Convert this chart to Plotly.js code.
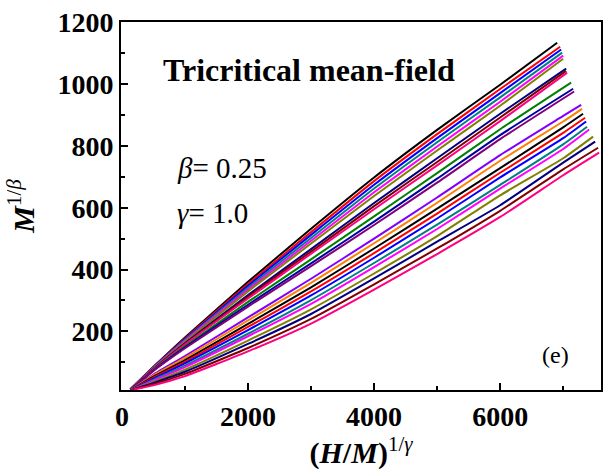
<!DOCTYPE html>
<html><head><meta charset="utf-8">
<script src="https://cdn.plot.ly/plotly-3.0.1.min.js"></script>
<style>html,body{margin:0;padding:0;background:#fff}#chart{width:605px;height:471px}</style>
</head><body><div id="chart"></div>
<script>
// x grids (H/M)^(1/gamma) and y values M^(1/beta) for each isotherm
const c01x=[130,500,1000,2000,3000,4000,5000,6000,6905], c01y=[12,85,180,360,532,698,852,998,1134];
const c02x=[132,500,1000,2000,3000,4000,5000,6000,6952], c02y=[12,84,177,353,521,686,838,984,1121];
const c03x=[134,500,1000,2000,3000,4000,5000,6000,6968], c03y=[12,83,174,347,512,674,825,971,1112];
const c04x=[136,500,1000,2000,3000,4000,5000,6000,6984], c04y=[12,82,172,341,502,662,812,957,1102];
const c05x=[138,500,1000,2000,3000,4000,5000,6000,7000], c05y=[12,81,169,335,493,650,798,943,1092];
const c06x=[140,500,1000,2000,3000,4000,5000,6000,7000], c06y=[12,80,166,329,484,638,785,930,1082];
const c07x=[142,500,1000,2000,3000,4000,5000,6000,7047], c07y=[12,78,161,317,466,615,760,904,1050];
const c08x=[144,500,1000,2000,3000,4000,5000,6000,7047], c08y=[12,77,159,312,458,605,748,892,1043];
const c09x=[146,500,1000,2000,3000,4000,5000,6000,7063], c09y=[12,76,157,306,451,595,737,880,1037];
const c10x=[148,500,1000,2000,3000,4000,5000,6000,7126], c10y=[12,74,151,295,433,572,712,854,1005];
const c11x=[150,500,1000,2000,3000,4000,5000,6000,7158], c11y=[12,73,148,286,420,555,694,835,985];
const c12x=[152,500,1000,2000,3000,4000,5000,6000,7174], c12y=[12,72,145,280,411,544,681,822,976];
const c13x=[155,500,1000,2000,3000,4000,5000,6000,7000,7285], c13y=[12,60,120,245,370,500,633,770,897,933];
const c14x=[158,500,1000,2000,3000,4000,5000,6000,7000,7300], c14y=[12,57,114,235,357,485,616,752,879,920];
const c15x=[161,500,1000,2000,3000,4000,5000,6000,7000,7316], c15y=[12,53,107,224,342,468,597,728,860,904];
const c16x=[164,500,1000,2000,3000,4000,5000,6000,7000,7348], c16y=[12,50,101,214,329,453,581,713,842,891];
const c17x=[167,500,1000,2000,3000,4000,5000,6000,7000,7364], c17y=[12,47,96,204,316,438,565,698,825,879];
const c18x=[170,500,1000,2000,3000,4000,5000,6000,7000,7380], c18y=[12,43,89,192,301,421,545,674,805,862];
const c19x=[173,500,1000,2000,3000,4000,5000,6000,7000,7412], c19y=[12,40,84,184,289,408,531,662,790,853];
const c20x=[176,500,1000,2000,3000,4000,5000,6000,7000,7475], c20y=[12,36,76,170,271,387,508,640,760,830];
const c21x=[179,500,1000,2000,3000,4000,5000,6000,7000,7507], c21y=[12,33,69,159,256,371,490,608,746,814];
const c22x=[182,500,1000,2000,3000,4000,5000,6000,7000,7554], c22y=[12,29,62,146,240,352,468,590,724,794];
const c23x=[185,500,1000,2000,3000,4000,5000,6000,7000,7570], c23y=[12,25,55,135,225,335,450,570,705,778];

const curveX=[c01x,c02x,c03x,c04x,c05x,c06x,c07x,c08x,c09x,c10x,c11x,c12x,c13x,c14x,c15x,c16x,c17x,c18x,c19x,c20x,c21x,c22x,c23x];
const curveY=[c01y,c02y,c03y,c04y,c05y,c06y,c07y,c08y,c09y,c10y,c11y,c12y,c13y,c14y,c15y,c16y,c17y,c18y,c19y,c20y,c21y,c22y,c23y];
const curveColors=['#000000','#FF0000','#0000FF','#008080','#FF00FF','#808000','#000080','#800000','#FF0080','#008000','#0000A0','#800080',
  '#8000FF','#FF8000','#000000','#FF0000','#0000FF','#008080','#FF00FF','#808000','#000080','#800000','#FF0080'];

const xTickVals=[0,2000,4000,6000];
const yTickVals=[200,400,600,800,1000,1200];

const FONT='"Times New Roman", "Liberation Serif", serif';
const traces=curveX.map((xs,i)=>({x:xs,y:curveY[i],type:'scatter',mode:'lines',
  line:{color:curveColors[i],width:2,shape:'spline',smoothing:0.5},hoverinfo:'skip'}));

const layout={
  width:605,height:471,showlegend:false,
  margin:{l:121,r:4,t:22,b:81,pad:0},
  paper_bgcolor:'#fff',plot_bgcolor:'#fff',
  font:{family:FONT,color:'#000'},
  xaxis:{range:[-15,7600],tickmode:'array',tickvals:xTickVals,ticktext:xTickVals.map(String),
    ticks:'inside',ticklen:7,tickwidth:2,tickcolor:'#000',
    minor:{dtick:1000,tick0:0,ticks:'inside',ticklen:4,tickwidth:2,tickcolor:'#000'},
    showline:true,linewidth:2,linecolor:'#000',mirror:true,showgrid:false,zeroline:false,
    tickfont:{family:FONT,size:28,weight:'bold'},
    title:{text:'<b>(<i>H</i>/<i>M</i>)</b><sup>1/<i>γ</i></sup>',font:{family:FONT,size:30},standoff:2}},
  yaxis:{range:[10,1201],tickmode:'array',tickvals:yTickVals,ticktext:yTickVals.map(String),
    ticks:'inside',ticklen:7,tickwidth:2,tickcolor:'#000',
    minor:{dtick:100,tick0:0,ticks:'inside',ticklen:4,tickwidth:2,tickcolor:'#000'},
    showline:true,linewidth:2,linecolor:'#000',mirror:true,showgrid:false,zeroline:false,
    tickfont:{family:FONT,size:28,weight:'bold'},
    title:{text:'<b><i>M</i></b><sup>1/<i>β</i></sup>',font:{family:FONT,size:30},standoff:14}},
  annotations:[
    {xref:'paper',yref:'paper',x:0.392,y:0.870,xanchor:'center',yanchor:'middle',showarrow:false,
     text:'<b>Tricritical mean-field</b>',font:{family:FONT,size:32}},
    {xref:'paper',yref:'paper',x:0.112,y:0.603,xanchor:'left',yanchor:'middle',showarrow:false,
     text:'<i>β</i>= 0.25',font:{family:FONT,size:29}},
    {xref:'paper',yref:'paper',x:0.112,y:0.481,xanchor:'left',yanchor:'middle',showarrow:false,
     text:'<i>γ</i>= 1.0',font:{family:FONT,size:29}},
    {xref:'paper',yref:'paper',x:0.906,y:0.095,xanchor:'center',yanchor:'middle',showarrow:false,
     text:'(e)',font:{family:FONT,size:24}}
  ]
};
Plotly.newPlot('chart',traces,layout,{staticPlot:true,displayModeBar:false});
</script></body></html>
